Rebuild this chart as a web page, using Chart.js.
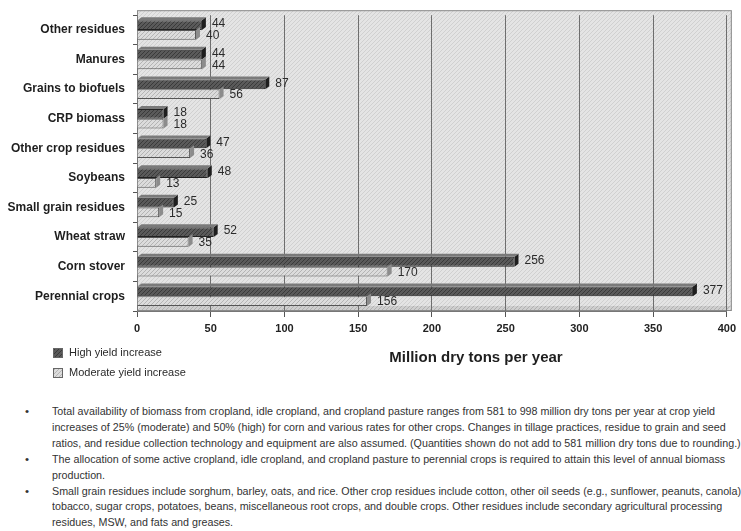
<!DOCTYPE html>
<html>
<head>
<meta charset="utf-8">
<script src="https://cdn.jsdelivr.net/npm/chart.js@4.4.1/dist/chart.umd.min.js"></script>
<style>
  html, body { margin: 0; padding: 0; background: #fff; }
  #wrap { position: relative; width: 741px; height: 531px; overflow: hidden; }
  #chartBox { position: absolute; left: 0; top: 0; width: 741px; height: 392px; }
  #notes { position: absolute; left: 0; top: 403px; width: 741px;
           font-family: "Liberation Sans", Arial, sans-serif;
           font-size: 11.5px; color: #333; }
  .ln { position: absolute; left: 52px; white-space: nowrap; line-height: 16px; transform-origin: 0 50%; }
  .bul { position: absolute; left: 25px; line-height: 16px; }
</style>
</head>
<body>
<div id="wrap">
  <div id="chartBox"><canvas id="c" width="741" height="392"></canvas></div>
  <div id="notes"></div>
</div>
<script>
// Biomass sources (top to bottom)
const categories = [
  "Other residues", "Manures", "Grains to biofuels", "CRP biomass",
  "Other crop residues", "Soybeans", "Small grain residues",
  "Wheat straw", "Corn stover", "Perennial crops"
];
// Million dry tons per year
const highYield     = [44, 44, 87, 18, 47, 48, 25, 52, 256, 377];
const moderateYield = [40, 44, 56, 18, 36, 13, 15, 35, 170, 156];
const seriesNames = ["High yield increase", "Moderate yield increase"];
const axisTitle = "Million dry tons per year";
const xTicks = [0, 50, 100, 150, 200, 250, 300, 350, 400];

const notes = [
  ["Total availability of biomass from cropland, idle cropland, and cropland pasture ranges from 581 to 998 million dry tons per year at crop yield",
   "increases of 25% (moderate) and 50% (high) for corn and various rates for other crops. Changes in tillage practices, residue to grain and seed",
   "ratios, and residue collection technology and equipment are also assumed. (Quantities shown do not add to 581 million dry tons due to rounding.)"],
  ["The allocation of some active cropland, idle cropland, and cropland pasture to perennial crops is required to attain this level of annual biomass",
   "production."],
  ["Small grain residues include sorghum, barley, oats, and rice. Other crop residues include cotton, other oil seeds (e.g., sunflower, peanuts, canola)",
   "tobacco, sugar crops, potatoes, beans, miscellaneous root crops, and double crops. Other residues include secondary agricultural processing",
   "residues, MSW, and fats and greases."]
];

const FONT = '"Liberation Sans", Arial, sans-serif';

// footnote lines, condensed so the first line spans 663px
(function () {
  const box = document.getElementById('notes');
  const m = document.createElement('canvas').getContext('2d');
  m.font = '11.5px ' + FONT;
  const squeeze = 663 / m.measureText(notes[0][0]).width;
  let row = 0;
  notes.forEach(group => {
    const b = document.createElement('div');
    b.className = 'bul'; b.textContent = '\u2022';
    b.style.top = (row * 15.9) + 'px';
    box.appendChild(b);
    group.forEach(t => {
      const d = document.createElement('div');
      d.className = 'ln'; d.textContent = t;
      d.style.top = (row * 15.9) + 'px';
      d.style.transform = 'scaleX(' + squeeze.toFixed(4) + ')';
      box.appendChild(d);
      row++;
    });
  });
})();

const canvas = document.getElementById('c');
const ctx = canvas.getContext('2d');

// diagonal hatch fill
function hatch(base, line, size) {
  const c = document.createElement('canvas');
  c.width = c.height = size;
  const g = c.getContext('2d');
  g.fillStyle = base; g.fillRect(0, 0, size, size);
  g.strokeStyle = line; g.lineWidth = 1;
  g.beginPath();
  g.moveTo(0, size); g.lineTo(size, 0);
  g.moveTo(-1, 1); g.lineTo(1, -1);
  g.moveTo(size - 1, size + 1); g.lineTo(size + 1, size - 1);
  g.stroke();
  return ctx.createPattern(c, 'repeat');
}

const highFill = hatch('#5a5a5a', '#3a3a3a', 4);
const modFill  = hatch('#dcdcdc', '#b4b4b4', 4);
const wallFill = hatch('#e4e4e4', '#d0d0d0', 4);
const floorFill = hatch('#cfcfcf', '#b0b0b0', 4);

// hatched wall and floor behind the bars
const wallPlugin = {
  id: 'wall',
  beforeDraw(chart) {
    const a = chart.chartArea, g = chart.ctx;
    g.save();
    g.fillStyle = wallFill;
    g.fillRect(a.left, a.top - 5, a.right - a.left + 5, a.bottom - a.top + 5);
    g.fillStyle = floorFill;
    g.beginPath();
    g.moveTo(a.left, a.bottom); g.lineTo(a.right, a.bottom);
    g.lineTo(a.right + 5, a.bottom - 5); g.lineTo(a.left + 5, a.bottom - 5);
    g.closePath(); g.fill();
    g.strokeStyle = '#8a8a8a'; g.lineWidth = 1;
    g.strokeRect(a.left + 0.5, a.top - 4.5, a.right - a.left + 4, a.bottom - a.top + 4);
    g.restore();
  }
};

// depth faces on the bars, value labels, legend and axis title
const decorPlugin = {
  id: 'decor',
  afterDatasetsDraw(chart) {
    const g = chart.ctx;
    const dx = 4, dy = -3;
    g.save();
    chart.data.datasets.forEach((ds, di) => {
      const meta = chart.getDatasetMeta(di);
      meta.data.forEach((el, i) => {
        const p = el.getProps(['x', 'y', 'base', 'height'], true);
        const top = p.y - p.height / 2, bot = p.y + p.height / 2;
        // end cap
        g.fillStyle = di === 0 ? '#1e1e1e' : '#8c8c8c';
        g.beginPath();
        g.moveTo(p.x, top); g.lineTo(p.x + dx, top + dy);
        g.lineTo(p.x + dx, bot + dy); g.lineTo(p.x, bot);
        g.closePath(); g.fill();
        if (di === 0) {
          g.fillStyle = '#7a7a7a';
          g.beginPath();
          g.moveTo(p.base, top); g.lineTo(p.x, top);
          g.lineTo(p.x + dx, top + dy); g.lineTo(p.base + dx, top + dy);
          g.closePath(); g.fill();
        }
        // value label
        g.fillStyle = '#2a2a2a';
        g.font = '12px ' + FONT;
        g.textAlign = 'left'; g.textBaseline = 'middle';
        g.fillText(String(ds.data[i]), p.x + 10, p.y + (di === 0 ? -1 : 1));
      });
    });
    g.restore();
  },
  afterDraw(chart) {
    const g = chart.ctx;
    g.save();
    const rows = [353, 373];
    chart.data.datasets.forEach((ds, di) => {
      const y = rows[di];
      g.fillStyle = ds.backgroundColor;
      g.fillRect(53, y - 5, 10, 10);
      g.strokeStyle = '#666'; g.lineWidth = 1;
      g.strokeRect(53.5, y - 4.5, 9, 9);
      g.fillStyle = '#2a2a2a';
      g.font = '11px ' + FONT;
      g.textAlign = 'left'; g.textBaseline = 'middle';
      g.fillText(ds.label, 69, y);
    });
    g.fillStyle = '#1e1e1e';
    g.font = 'bold 15px ' + FONT;
    g.textAlign = 'center'; g.textBaseline = 'middle';
    g.fillText(axisTitle, 476, 358);
    g.restore();
  }
};

new Chart(ctx, {
  type: 'bar',
  data: {
    labels: categories,
    datasets: [
      { label: seriesNames[0], data: highYield, backgroundColor: highFill,
        borderColor: '#222', borderWidth: 1 },
      { label: seriesNames[1], data: moderateYield, backgroundColor: modFill,
        borderColor: '#555', borderWidth: 1 }
    ]
  },
  options: {
    indexAxis: 'y',
    responsive: false,
    animation: false,
    layout: { padding: { top: 12, right: 8, left: 0, bottom: 0 } },
    datasets: { bar: { categoryPercentage: 0.66, barPercentage: 1.0 } },
    plugins: { legend: { display: false }, tooltip: { enabled: false } },
    scales: {
      x: {
        min: 0, max: 400,
        afterBuildTicks(scale) { scale.ticks = xTicks.map(v => ({ value: v })); },
        afterFit(scale) { scale.height = 81; },
        ticks: { color: '#222', font: { family: FONT, size: 11, weight: 'bold' }, padding: 5 },
        grid: { color: '#6e6e6e', lineWidth: 1, tickLength: 6, tickColor: '#555' },
        border: { color: '#777' }
      },
      y: {
        afterFit(scale) { scale.width = 137; },
        ticks: { color: '#1e1e1e', font: { family: FONT, size: 12, weight: 'bold' }, padding: 8 },
        grid: { drawOnChartArea: false, tickLength: 4, tickColor: '#555', offset: true },
        border: { color: '#777' }
      }
    }
  },
  plugins: [wallPlugin, decorPlugin]
});
</script>
</body>
</html>
